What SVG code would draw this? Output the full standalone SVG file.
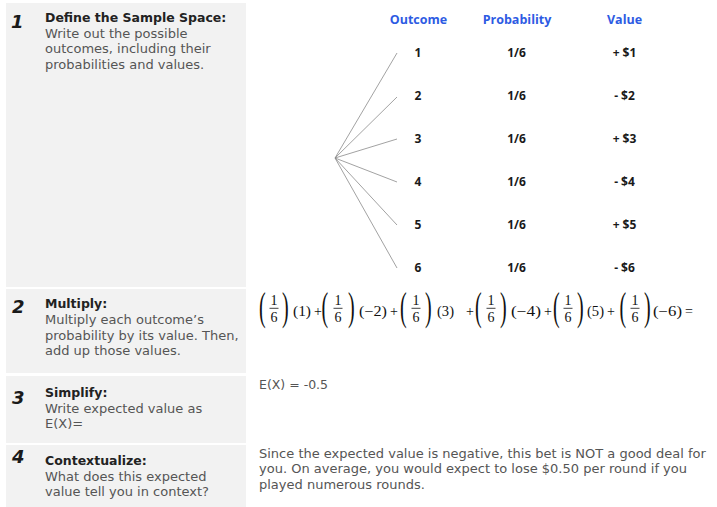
<svg xmlns="http://www.w3.org/2000/svg" width="717" height="507" viewBox="0 0 717 507">
<style>
.panel{fill:#f2f2f2}
.num{font-family:"DejaVu Sans","Liberation Sans",sans-serif;font-weight:bold;font-style:italic;font-size:18px;fill:#1a1a1a}
.ttl{font-family:"DejaVu Sans","Liberation Sans",sans-serif;font-weight:bold;font-size:12.5px;fill:#222}
.body{font-family:"DejaVu Sans","Liberation Sans",sans-serif;font-size:13px;fill:#555}
.hdr{font-family:"Open Sans","Liberation Sans",sans-serif;font-weight:bold;font-size:12.5px;fill:#2d5be3;text-anchor:middle}
.cell{font-family:"Open Sans","Liberation Sans",sans-serif;font-weight:bold;font-size:12px;fill:#1a1a1a;text-anchor:middle}
.br{stroke:#8a8a8a;stroke-width:0.8;fill:none}
.m{font-family:"Liberation Serif","Times New Roman",serif;font-size:14px;fill:#111}
.fr{font-family:"Liberation Serif","Times New Roman",serif;font-size:14px;fill:#111;text-anchor:middle}
.par{font-family:"Liberation Serif","Times New Roman",serif;font-size:20px;fill:#111}
.bar{stroke:#111;stroke-width:0.8}
</style>
<rect width="717" height="507" fill="#ffffff"/>

<g id="step1">
<rect class="panel" x="6" y="3" width="240" height="284"/>
<text class="num" x="11" y="28">1</text>
<text class="ttl" x="45" y="22">Define the Sample Space:</text>
<text class="body" x="45" y="37.5">Write out the possible</text>
<text class="body" x="45" y="53">outcomes, including their</text>
<text class="body" x="45" y="68.5">probabilities and values.</text>
</g>

<g id="step2">
<rect class="panel" x="6" y="289" width="240" height="84"/>
<text class="num" x="12" y="312.5">2</text>
<text class="ttl" x="45" y="308">Multiply:</text>
<text class="body" x="45" y="324">Multiply each outcome’s</text>
<text class="body" x="45" y="339.5">probability by its value. Then,</text>
<text class="body" x="45" y="355">add up those values.</text>
</g>

<g id="step3">
<rect class="panel" x="6" y="376" width="240" height="67"/>
<text class="num" x="12" y="404">3</text>
<text class="ttl" x="45" y="397">Simplify:</text>
<text class="body" x="45" y="412.5">Write expected value as</text>
<text class="body" x="45" y="428">E(X)=</text>
</g>

<g id="step4">
<rect class="panel" x="6" y="445" width="240" height="62"/>
<text class="num" x="12" y="463">4</text>
<text class="ttl" x="45" y="465">Contextualize:</text>
<text class="body" x="45" y="480.5">What does this expected</text>
<text class="body" x="45" y="496">value tell you in context?</text>
</g>

<g id="table">
<text class="hdr" x="418.5" y="23.5">Outcome</text>
<text class="hdr" x="517" y="23.5">Probability</text>
<text class="hdr" x="624.5" y="23.5">Value</text>
<text class="cell" x="418" y="57">1</text><text class="cell" x="516.5" y="57">1/6</text><text class="cell" x="624.5" y="57">+ $1</text>
<text class="cell" x="418" y="100">2</text><text class="cell" x="516.5" y="100">1/6</text><text class="cell" x="624.5" y="100">- $2</text>
<text class="cell" x="418" y="143">3</text><text class="cell" x="516.5" y="143">1/6</text><text class="cell" x="624.5" y="143">+ $3</text>
<text class="cell" x="418" y="186">4</text><text class="cell" x="516.5" y="186">1/6</text><text class="cell" x="624.5" y="186">- $4</text>
<text class="cell" x="418" y="229">5</text><text class="cell" x="516.5" y="229">1/6</text><text class="cell" x="624.5" y="229">+ $5</text>
<text class="cell" x="418" y="272">6</text><text class="cell" x="516.5" y="272">1/6</text><text class="cell" x="624.5" y="272">- $6</text>
</g>

<g id="connectors">
<line class="br" x1="335" y1="158" x2="397" y2="53"/>
<line class="br" x1="335" y1="158" x2="397" y2="97"/>
<line class="br" x1="335" y1="158" x2="397" y2="139"/>
<line class="br" x1="335" y1="158" x2="397" y2="182"/>
<line class="br" x1="335" y1="158" x2="397" y2="225"/>
<line class="br" x1="335" y1="158" x2="397" y2="268"/>
</g>

<g id="formula">
<text class="par" transform="translate(259,320) scale(1,1.95)">(</text>
<text class="fr" x="274" y="305">1</text><line class="bar" x1="269.5" y1="308.3" x2="278.5" y2="308.3"/><text class="fr" x="274" y="322">6</text>
<text class="par" transform="translate(282,320) scale(1,1.95)">)</text>
<text class="m" x="293" y="316" textLength="18" lengthAdjust="spacingAndGlyphs">(1)</text>
<text class="m" x="314" y="316">+</text>

<text class="par" transform="translate(321.5,320) scale(1,1.95)">(</text>
<text class="fr" x="338" y="305">1</text><line class="bar" x1="333.5" y1="308.3" x2="342.5" y2="308.3"/><text class="fr" x="338" y="322">6</text>
<text class="par" transform="translate(348,320) scale(1,1.95)">)</text>
<text class="m" x="359" y="316" textLength="28" lengthAdjust="spacingAndGlyphs">(−2)</text>
<text class="m" x="390" y="316">+</text>

<text class="par" transform="translate(400,320) scale(1,1.95)">(</text>
<text class="fr" x="416" y="305">1</text><line class="bar" x1="411.5" y1="308.3" x2="420.5" y2="308.3"/><text class="fr" x="416" y="322">6</text>
<text class="par" transform="translate(425,320) scale(1,1.95)">)</text>
<text class="m" x="437" y="316" textLength="17" lengthAdjust="spacingAndGlyphs">(3)</text>
<text class="m" x="466" y="316">+</text>

<text class="par" transform="translate(475,320) scale(1,1.95)">(</text>
<text class="fr" x="491" y="305">1</text><line class="bar" x1="486.5" y1="308.3" x2="495.5" y2="308.3"/><text class="fr" x="491" y="322">6</text>
<text class="par" transform="translate(500,320) scale(1,1.95)">)</text>
<text class="m" x="511" y="316" textLength="30" lengthAdjust="spacingAndGlyphs">(−4)</text>
<text class="m" x="544" y="316">+</text>

<text class="par" transform="translate(553,320) scale(1,1.95)">(</text>
<text class="fr" x="568" y="305">1</text><line class="bar" x1="563.5" y1="308.3" x2="572.5" y2="308.3"/><text class="fr" x="568" y="322">6</text>
<text class="par" transform="translate(577,320) scale(1,1.95)">)</text>
<text class="m" x="587" y="316" textLength="17" lengthAdjust="spacingAndGlyphs">(5)</text>
<text class="m" x="607" y="316">+</text>

<text class="par" transform="translate(619.5,320) scale(1,1.95)">(</text>
<text class="fr" x="635" y="305">1</text><line class="bar" x1="630.5" y1="308.3" x2="639.5" y2="308.3"/><text class="fr" x="635" y="322">6</text>
<text class="par" transform="translate(644,320) scale(1,1.95)">)</text>
<text class="m" x="653" y="316" textLength="29" lengthAdjust="spacingAndGlyphs">(−6)</text>
<text class="m" x="685" y="316">=</text>
</g>

<g id="answers">
<text class="body" x="259" y="388.5" style="font-size:12.5px">E(X) = -0.5</text>
<text class="body" x="259" y="457.5">Since the expected value is negative, this bet is NOT a good deal for</text>
<text class="body" x="259" y="473">you. On average, you would expect to lose $0.50 per round if you</text>
<text class="body" x="259" y="488.5">played numerous rounds.</text>
</g>
</svg>
